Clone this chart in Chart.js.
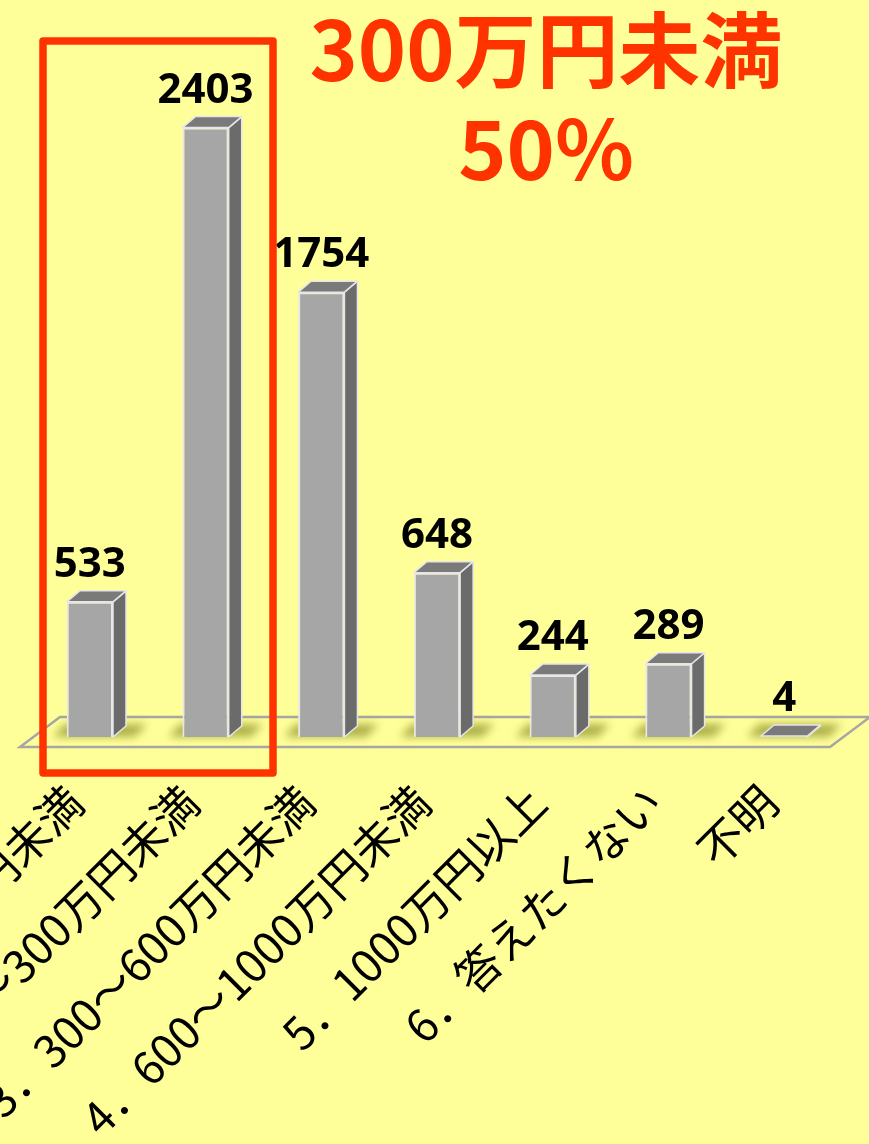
<!DOCTYPE html>
<html><head><meta charset="utf-8">
<script src="https://cdn.jsdelivr.net/npm/chart.js@4/dist/chart.umd.min.js"></script>
<style>
html,body{margin:0;padding:0;background:#FFFF99;overflow:hidden;}
#wrap{position:relative;width:869px;height:1144px;}
</style></head>
<body><div id="wrap"><canvas id="c" width="869" height="1144"></canvas></div>
<script>
const categories = ['1．100万円未満','2．100～300万円未満','3．300～600万円未満','4．600～1000万円未満','5．1000万円以上','6．答えたくない','不明'];
const counts = [533, 2403, 1754, 648, 244, 289, 4];
const titleLines = ['300万円未満', '50%'];
const yMax = 2500;

const RED = '#FF3300';
const DX = 13, DY = 11;

const deco = {
  id: 'deco',
  beforeDatasetsDraw(chart) {
    const {ctx, chartArea, scales:{y}} = chart;
    const base = y.getPixelForValue(0);
    const fl = chartArea.left - 12, fr = chartArea.right - 12;
    ctx.save();
    ctx.beginPath();
    ctx.moveTo(fl, base + 10); ctx.lineTo(fr, base + 10);
    ctx.lineTo(fr + 40, base - 20); ctx.lineTo(fl + 40, base - 20);
    ctx.closePath();
    ctx.fillStyle = '#FFFF99'; ctx.fill();
    ctx.strokeStyle = '#A6A6A6'; ctx.lineWidth = 2.5; ctx.stroke();
    const meta = chart.getDatasetMeta(0);
    ctx.filter = 'blur(4px)';
    ctx.fillStyle = 'rgba(120,125,20,0.6)';
    meta.data.forEach(b => {
      const w = b.width;
      ctx.beginPath();
      ctx.moveTo(b.x - w/2 - 14, base);
      ctx.lineTo(b.x + w/2 + 22, base);
      ctx.lineTo(b.x + w/2 + 34, base - 13);
      ctx.lineTo(b.x - w/2 - 2, base - 13);
      ctx.closePath();
      ctx.fill();
    });
    ctx.restore();
  },
  afterDatasetsDraw(chart) {
    const {ctx} = chart;
    const meta = chart.getDatasetMeta(0);
    ctx.save();
    ctx.lineJoin = 'round';
    meta.data.forEach((b, i) => {
      const w = b.width, L = b.x - w/2, R = b.x + w/2, T = b.y, B = b.base;
      ctx.beginPath();
      ctx.moveTo(R, T); ctx.lineTo(R + DX, T - DY); ctx.lineTo(R + DX, B - DY); ctx.lineTo(R, B); ctx.closePath();
      ctx.fillStyle = '#6B6B6B'; ctx.fill();
      ctx.strokeStyle = '#E6E6E6'; ctx.lineWidth = 1.5; ctx.stroke();
      ctx.beginPath();
      ctx.moveTo(L, T); ctx.lineTo(L + DX, T - DY); ctx.lineTo(R + DX, T - DY); ctx.lineTo(R, T); ctx.closePath();
      ctx.fillStyle = '#7A7A7A'; ctx.fill();
      ctx.stroke();
      ctx.fillStyle = '#000';
      ctx.font = 'bold 42px "Noto Sans", sans-serif';
      ctx.textAlign = 'center';
      ctx.textBaseline = 'alphabetic';
      ctx.fillText(String(counts[i]), b.x, T - 25);
    });
    ctx.restore();
  },
  afterDraw(chart) {
    const {ctx} = chart;
    ctx.save();
    ctx.strokeStyle = RED; ctx.lineWidth = 7.5; ctx.lineJoin = 'round';
    ctx.strokeRect(43, 41, 230, 732);
    ctx.fillStyle = RED;
    ctx.font = 'bold 82px "Noto Sans CJK JP", sans-serif';
    ctx.textAlign = 'center';
    ctx.textBaseline = 'alphabetic';
    ctx.fillText(titleLines[0], 546, 81);
    ctx.fillText(titleLines[1], 546, 180);
    ctx.restore();
  }
};

new Chart(document.getElementById('c'), {
  type: 'bar',
  data: {
    labels: categories,
    datasets: [{
      data: counts,
      backgroundColor: '#A6A6A6',
      borderColor: '#E8E8E8',
      borderWidth: 2,
      barPercentage: 0.4,
      categoryPercentage: 1.0
    }]
  },
  options: {
    responsive: false,
    animation: false,
    events: [],
    layout: { padding: { left: 32, right: 27, top: 103, bottom: 0 } },
    plugins: { legend: { display: false }, tooltip: { enabled: false }, title: { display: false } },
    scales: {
      y: { display: false, min: 0, max: yMax },
      x: {
        grid: { display: false },
        border: { display: false },
        ticks: {
          color: '#000',
          font: { family: '"Noto Sans CJK JP", sans-serif', size: 45 },
          minRotation: 45, maxRotation: 45,
          autoSkip: false,
          padding: 30,
          labelOffset: -15
        },
        afterFit(scale) { scale.paddingLeft = 0; scale.paddingRight = 0; scale.height = 407; }
      }
    }
  },
  plugins: [deco]
});
</script>
</body></html>
